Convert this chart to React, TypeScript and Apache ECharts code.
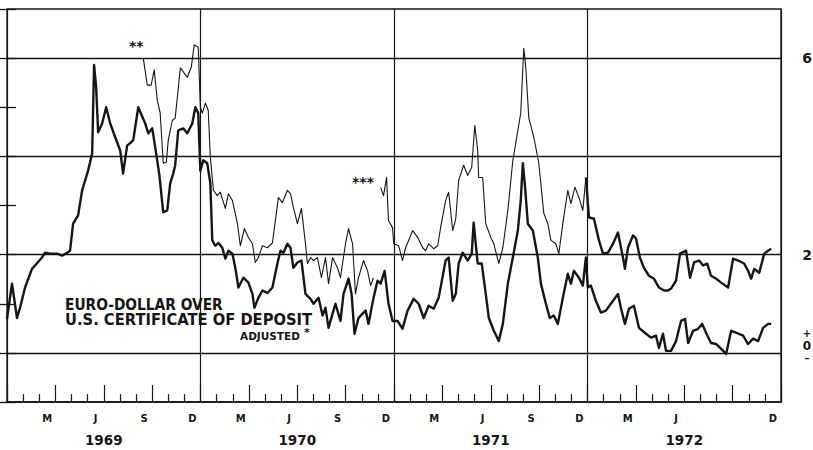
import React, { useEffect, useRef } from "react";
import * as echarts from "echarts";

// x = months since 1 Jan 1969, y = percentage points
const adjMonths = [0, 0.31, 0.62, 0.81, 1.12, 1.55, 1.74, 2.17, 2.36, 2.67, 3.11, 3.42, 3.73, 3.91, 4.1, 4.41, 4.66, 5.03, 5.28, 5.4, 5.53, 5.65, 5.9, 6.15, 6.4, 6.71, 7.02, 7.2, 7.45, 7.64, 7.83, 8.14, 8.57, 8.76, 9.01, 9.44, 9.69, 9.94, 10.12, 10.31, 10.43, 10.62, 10.93, 11.18, 11.49, 11.68, 11.86, 11.99, 12.17, 12.42, 12.61, 12.73, 12.92, 13.11, 13.35, 13.54, 13.73, 13.98, 14.16, 14.35, 14.66, 14.97, 15.22, 15.34, 15.59, 15.84, 16.15, 16.46, 16.77, 16.96, 17.14, 17.39, 17.58, 17.76, 18.01, 18.26, 18.51, 18.82, 19.01, 19.32, 19.57, 19.75, 19.94, 20.19, 20.37, 20.68, 20.87, 21.18, 21.37, 21.55, 21.8, 22.05, 22.24, 22.42, 22.73, 22.98, 23.17, 23.42, 23.66, 23.91, 24.22, 24.53, 24.84, 25.22, 25.53, 25.84, 26.15, 26.46, 26.77, 27.2, 27.39, 27.64, 27.83, 28.01, 28.26, 28.57, 28.82, 28.94, 29.19, 29.44, 29.69, 29.88, 30.19, 30.5, 30.75, 31.06, 31.37, 31.68, 31.86, 31.99, 32.11, 32.3, 32.61, 32.92, 33.11, 33.42, 33.66, 33.91, 34.16, 34.47, 34.78, 34.97, 35.16, 35.47, 35.71, 35.9, 36.02, 36.21, 36.52, 36.83, 37.14, 37.45, 37.89, 38.07, 38.32, 38.57, 38.88, 39.19, 39.63, 39.94, 40.25, 40.43, 40.68, 40.87, 41.18, 41.49, 41.8, 42.05, 42.24, 42.55, 42.86, 43.11, 43.35, 43.66, 43.98, 44.29, 44.6, 44.91, 45.22, 45.65, 45.96, 46.27, 46.58, 46.89, 47.2, 47.39];
const adjValues = [0.69, 1.41, 0.71, 0.92, 1.33, 1.71, 1.78, 1.94, 2.04, 2.02, 2.02, 1.98, 2.04, 2.08, 2.63, 2.8, 3.31, 3.71, 4.06, 5.86, 5.41, 4.49, 4.67, 5.0, 4.67, 4.39, 4.12, 3.65, 4.22, 4.27, 4.33, 5.0, 4.67, 4.47, 4.57, 3.65, 2.86, 2.9, 3.45, 3.65, 3.82, 4.53, 4.57, 4.47, 4.67, 5.0, 4.88, 3.71, 3.92, 3.86, 3.45, 2.29, 2.18, 2.24, 2.14, 1.92, 2.08, 2.02, 1.73, 1.33, 1.53, 1.43, 1.2, 0.92, 1.12, 1.27, 1.22, 1.33, 1.82, 2.08, 2.04, 2.22, 2.14, 1.73, 1.84, 1.88, 1.2, 1.1, 1.0, 1.12, 0.76, 0.92, 0.51, 0.8, 1.0, 0.65, 1.2, 1.51, 1.2, 0.39, 0.71, 0.8, 0.86, 0.59, 1.12, 1.47, 1.41, 1.67, 1.0, 0.65, 0.65, 0.49, 0.86, 1.1, 1.0, 0.71, 0.96, 0.9, 1.12, 1.88, 1.94, 1.06, 1.2, 1.82, 2.04, 1.88, 2.02, 2.65, 1.82, 1.82, 1.2, 0.71, 0.45, 0.24, 0.59, 1.41, 1.94, 2.49, 3.1, 3.86, 3.45, 2.63, 2.49, 1.94, 1.41, 1.0, 0.71, 0.76, 0.59, 1.12, 1.61, 1.41, 1.67, 1.53, 1.37, 1.94, 1.33, 1.37, 1.06, 0.82, 0.86, 1.0, 1.2, 0.92, 0.59, 0.9, 0.96, 0.51, 0.39, 0.31, 0.35, 0.1, 0.39, 0.04, 0.04, 0.24, 0.65, 0.69, 0.2, 0.45, 0.49, 0.59, 0.41, 0.2, 0.18, 0.08, -0.02, 0.45, 0.41, 0.35, 0.18, 0.29, 0.24, 0.51, 0.59, 0.59];

// unadjusted line, 1969-1971 (thin); null marks the break at "***"
const rawMonths = [8.45, 8.7, 8.94, 9.13, 9.32, 9.5, 9.69, 9.88, 10.0, 10.25, 10.43, 10.75, 11.18, 11.43, 11.61, 11.86, 11.99, 12.11, 12.3, 12.48, 12.61, 12.8, 13.04, 13.23, 13.54, 13.73, 13.98, 14.29, 14.47, 14.72, 14.97, 15.22, 15.4, 15.59, 15.84, 16.15, 16.46, 16.83, 17.08, 17.39, 17.58, 17.76, 18.01, 18.26, 18.51, 18.63, 18.82, 19.01, 19.25, 19.5, 19.75, 19.94, 20.19, 20.5, 20.68, 20.99, 21.18, 21.43, 21.61, 21.8, 22.11, 22.36, 22.55, 22.73, 22.95, 23.17, 23.35, 23.54, 23.66, 23.91, 23.98, 24.29, 24.53, 24.72, 25.16, 25.47, 25.78, 25.96, 26.15, 26.46, 26.71, 26.89, 27.2, 27.39, 27.64, 27.83, 28.01, 28.32, 28.57, 28.82, 29.01, 29.19, 29.25, 29.5, 29.69, 30.0, 30.19, 30.5, 30.75, 31.06, 31.37, 31.68, 31.86, 32.05, 32.17, 32.36, 32.67, 32.98, 33.29, 33.54, 33.73, 34.04, 34.22, 34.47, 34.78, 34.97, 35.22, 35.47, 35.71, 35.9];
const rawValues = [6.0, 5.45, 5.45, 5.76, 5.14, 4.88, 3.86, 3.88, 4.33, 4.73, 4.78, 5.8, 5.61, 5.82, 6.27, 6.22, 5.0, 4.88, 5.08, 4.94, 3.98, 3.31, 3.2, 3.27, 2.94, 3.24, 3.1, 2.63, 2.18, 2.53, 2.35, 2.22, 1.84, 1.94, 2.18, 2.14, 2.24, 3.16, 3.06, 3.31, 3.24, 2.96, 2.63, 2.94, 2.22, 1.82, 1.94, 1.88, 1.94, 1.53, 1.94, 1.41, 1.94, 1.73, 1.53, 2.22, 2.53, 2.22, 1.2, 1.53, 1.88, 1.67, 1.37, 1.53, null, 3.37, 3.2, 3.57, 2.69, 2.55, 2.22, 2.18, 1.88, 2.14, 2.49, 2.35, 2.14, 2.08, 2.22, 2.12, 2.18, 2.55, 3.1, 3.27, 2.49, 2.73, 3.51, 3.82, 3.61, 3.78, 4.63, 4.12, 3.57, 3.57, 2.63, 2.35, 2.22, 1.82, 2.14, 2.9, 3.92, 4.53, 4.88, 6.2, 5.82, 4.78, 4.39, 3.86, 2.84, 2.63, 2.29, 2.22, 2.02, 2.63, 3.31, 3.04, 3.37, 3.16, 2.9, 3.57];

// unadjusted line, 1972 (drawn heavy)
const raw72Months = [35.9, 36.09, 36.4, 36.71, 36.96, 37.27, 37.58, 37.89, 38.2, 38.32, 38.51, 38.82, 39.01, 39.25, 39.5, 39.81, 40.12, 40.43, 40.75, 40.99, 41.18, 41.49, 41.74, 42.11, 42.36, 42.61, 42.92, 43.17, 43.42, 43.66, 43.98, 44.29, 44.72, 45.03, 45.34, 45.71, 45.96, 46.15, 46.34, 46.65, 46.96, 47.2, 47.39];
const raw72Values = [3.57, 2.76, 2.73, 2.29, 2.02, 2.04, 2.22, 2.45, 1.94, 1.71, 2.14, 2.39, 2.33, 1.94, 1.73, 1.57, 1.51, 1.33, 1.27, 1.27, 1.31, 1.47, 2.02, 2.08, 1.53, 1.84, 1.88, 1.78, 1.82, 1.57, 1.51, 1.43, 1.33, 1.92, 1.88, 1.82, 1.67, 1.51, 1.71, 1.63, 2.02, 2.08, 2.12];

const years = ["1969", "1970", "1971", "1972"];
// one letter per quarter (centred on its last month); 1972 has no "S"
const quarterLabels = ["M", "J", "S", "D", "M", "J", "S", "D", "M", "J", "S", "D", "M", "J", "", "D"];
const rightLabels: Record<string, string> = { "6": "6", "2": "2", "0": "{p|+}\n{z|0}\n{m|\u2013}\n{e| }" };

const INK = "#151515";
const FONT = "DejaVu Sans";

function pairs(xs: number[], ys: (number | null)[]) {
  return xs.map((x, i) => [x, ys[i] === null ? null : ys[i]]);
}

export default function App() {
  const ref = useRef<HTMLDivElement>(null);
  useEffect(() => {
    if (!ref.current) return;
    const chart = echarts.init(ref.current, null, { renderer: "svg" });
    const baseX = { type: "value", min: 0, max: 48, gridIndex: 0 };
    chart.setOption({
      animation: false,
      backgroundColor: "#ffffff",
      textStyle: { fontFamily: FONT, color: INK },
      grid: {
        left: 7,
        right: 32,
        top: 9,
        bottom: 48,
        show: true,
        borderColor: INK,
        borderWidth: 1.3,
        backgroundColor: "transparent",
        outerBoundsMode: "none",
      },
      xAxis: [
        {
          ...baseX,
          interval: 3,
          position: "bottom",
          axisLine: { show: true, onZero: false, lineStyle: { color: INK, width: 1.6 } },
          axisTick: { show: true, inside: true, length: 17, lineStyle: { color: INK, width: 1.2 } },
          minorTick: { show: true, splitNumber: 3, length: 8, lineStyle: { color: INK, width: 1.2 } },
          axisLabel: { show: false },
          splitLine: {
            show: true,
            lineStyle: { color: [INK, "rgba(0,0,0,0)", "rgba(0,0,0,0)", "rgba(0,0,0,0)"], width: 1.2 },
          },
        },
        {
          ...baseX,
          interval: 0.5,
          position: "bottom",
          axisLine: { show: false, onZero: false },
          axisTick: { show: false },
          splitLine: { show: false },
          axisLabel: {
            show: true,
            margin: 11,
            fontSize: 10,
            fontWeight: "bold",
            color: INK,
            hideOverlap: false,
            formatter: (v: number) => {
              const q = (v - 2.5) / 3;
              if (Math.abs(q - Math.round(q)) < 0.01 && q >= 0 && q < quarterLabels.length)
                return quarterLabels[Math.round(q)];
              return "";
            },
          },
        },
        {
          ...baseX,
          interval: 6,
          position: "bottom",
          axisLine: { show: false, onZero: false },
          axisTick: { show: false },
          splitLine: { show: false },
          axisLabel: {
            show: true,
            margin: 31,
            fontSize: 13.5,
            fontWeight: "bold",
            color: INK,
            hideOverlap: false,
            formatter: (v: number) => (v % 12 === 6 ? years[Math.floor(v / 12)] : ""),
          },
        },
      ],
      yAxis: [
        {
          type: "value",
          min: -1,
          max: 7,
          interval: 1,
          position: "left",
          axisLine: { show: false },
          axisTick: { show: true, inside: true, length: 9, lineStyle: { color: INK, width: 1.3 } },
          axisLabel: { show: false },
          splitLine: { show: true, lineStyle: { color: ["rgba(0,0,0,0)", INK], width: 1.3 } },
        },
        {
          type: "value",
          min: -1,
          max: 7,
          interval: 1,
          position: "right",
          axisLine: { show: false },
          axisTick: { show: true, inside: true, length: 10, lineStyle: { color: INK, width: 1.3 } },
          splitLine: { show: false },
          axisLabel: {
            show: true,
            margin: 26,
            align: "center",
            fontSize: 14,
            fontWeight: "bold",
            color: INK,
            formatter: (v: number) => rightLabels[String(v)] || "",
            rich: {
              p: { fontSize: 10, fontWeight: "bold", lineHeight: 12, color: INK, align: "center" },
              z: { fontSize: 12, fontWeight: "bold", lineHeight: 13, color: INK, align: "center" },
              m: { fontSize: 10, fontWeight: "bold", lineHeight: 12, color: INK, align: "center" },
              e: { fontSize: 10, lineHeight: 13, color: INK, align: "center" },
            },
          },
        },
      ],
      series: [
        {
          type: "line",
          xAxisIndex: 0,
          yAxisIndex: 0,
          data: pairs(adjMonths, adjValues),
          showSymbol: false,
          symbol: "none",
          connectNulls: false,
          lineStyle: { color: INK, width: 2.4, join: "round" },
        },
        {
          type: "line",
          xAxisIndex: 0,
          yAxisIndex: 0,
          data: pairs(rawMonths, rawValues),
          showSymbol: false,
          symbol: "none",
          connectNulls: false,
          lineStyle: { color: INK, width: 1.1, join: "round" },
        },
        {
          type: "line",
          xAxisIndex: 0,
          yAxisIndex: 0,
          data: pairs(raw72Months, raw72Values),
          showSymbol: false,
          symbol: "none",
          lineStyle: { color: INK, width: 2.4, join: "round" },
        },
      ],
      graphic: [
        {
          type: "text",
          x: 65,
          y: 304,
          scaleX: 0.89,
          style: {
            text: "EURO-DOLLAR OVER",
            font: `bold 15.5px "${FONT}"`,
            fill: INK,
            textVerticalAlign: "middle",
            verticalAlign: "middle",
          },
        },
        {
          type: "text",
          x: 65,
          y: 320,
          scaleX: 0.95,
          style: {
            text: "U.S. CERTIFICATE OF DEPOSIT",
            font: `bold 15.5px "${FONT}"`,
            fill: INK,
            textVerticalAlign: "middle",
            verticalAlign: "middle",
          },
        },
        {
          type: "text",
          x: 240,
          y: 336,
          style: {
            text: "ADJUSTED",
            font: `bold 10.5px "${FONT}"`,
            fill: INK,
            textVerticalAlign: "middle",
            verticalAlign: "middle",
          },
        },
        {
          type: "text",
          x: 304,
          y: 332,
          style: {
            text: "*",
            font: `bold 11px "${FONT}"`,
            fill: INK,
            textVerticalAlign: "middle",
            verticalAlign: "middle",
          },
        },
        {
          type: "text",
          left: 129,
          top: 39,
          style: { text: "**", font: `bold 14px "${FONT}"`, fill: INK },
        },
        {
          type: "text",
          left: 352,
          top: 175,
          style: { text: "***", font: `bold 14px "${FONT}"`, fill: INK },
        },
      ],
    });
    return () => chart.dispose();
  }, []);
  return (
    <div
      ref={ref}
      style={{ position: "absolute", left: 0, top: 0, width: 813, height: 450, background: "#fff" }}
    />
  );
}
